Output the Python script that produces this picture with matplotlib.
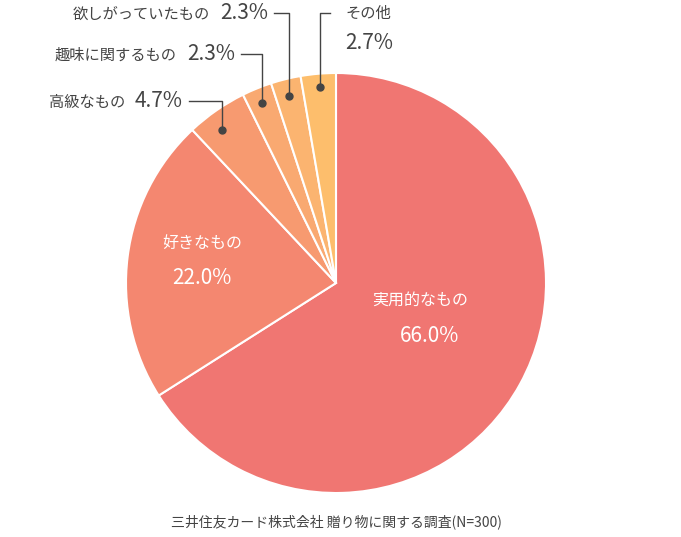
import matplotlib
matplotlib.use("Agg")
import matplotlib.pyplot as plt

categories = ["実用的なもの", "好きなもの", "高級なもの", "趣味に関するもの", "欲しがっていたもの", "その他"]
values = [66.0, 22.0, 4.7, 2.3, 2.3, 2.7]
colors = ["#F07672", "#F48770", "#F79A70", "#F9A971", "#FBB470", "#FDBE6C"]
source = "三井住友カード株式会社 贈り物に関する調査(N=300)"

plt.rcParams["font.family"] = "Noto Sans CJK JP"
W, H = 681, 537
fig = plt.figure(figsize=(W/100, H/100), dpi=100)
cx, cy, r = 336, 283, 210
ax = fig.add_axes([(cx-r)/W, (H-cy-r)/H, 2*r/W, 2*r/H])
ax.pie(values, colors=colors, startangle=90, counterclock=False,
       wedgeprops=dict(edgecolor="white", linewidth=1.5), radius=1)
ax.set_xlim(-1, 1); ax.set_ylim(-1, 1)
ax.set_aspect("auto")

def P(px, py):
    return ((px-cx)/r, (cy-py)/r)

def fx(px, py):
    return px/W, 1-py/H

txtc = "#444444"
# inner labels
fig.text(*fx(202, 243), categories[1], color="white", fontsize=11.5, ha="center", va="center")
fig.text(*fx(202, 278), f"{values[1]:.1f}%", color="white", fontsize=15, ha="center", va="center")
fig.text(*fx(420, 300), categories[0], color="white", fontsize=11.5, ha="center", va="center")
fig.text(*fx(430, 336), f"{values[0]:.1f}%", color="white", fontsize=15, ha="center", va="center")

# callouts: (label end x, y, corner x, dot y, percent width)
callouts = [
    (2, 183, 101, 222, 130),
    (3, 235, 54, 262, 103),
    (4, 268, 13, 289, 96),
]
for i, ex, ey, kx, dy in callouts:
    fig.text(*fx(ex, ey), f"{values[i]:.1f}%", color=txtc, fontsize=15, ha="right", va="center")
    fig.text(*fx(ex-58, ey+1), categories[i], color=txtc, fontsize=11, ha="right", va="center")
    xs, ys = zip(P(ex+6, ey), P(kx, ey), P(kx, dy))
    ax.plot(xs, ys, color="#444444", lw=1, clip_on=False)
    ax.plot(*P(kx, dy), "o", color="#444444", ms=5, clip_on=False)

# その他
xs, ys = zip(P(330, 13), P(320, 13), P(320, 87))
ax.plot(xs, ys, color="#444444", lw=1, clip_on=False)
ax.plot(*P(320, 87), "o", color="#444444", ms=5, clip_on=False)
fig.text(*fx(345, 13), categories[5], color=txtc, fontsize=11, ha="left", va="center")
fig.text(*fx(345, 43), f"{values[5]:.1f}%", color=txtc, fontsize=15, ha="left", va="center")

fig.text(*fx(336, 522), source, color=txtc, fontsize=10, ha="center", va="center")
fig.savefig("out.png", dpi=100)
